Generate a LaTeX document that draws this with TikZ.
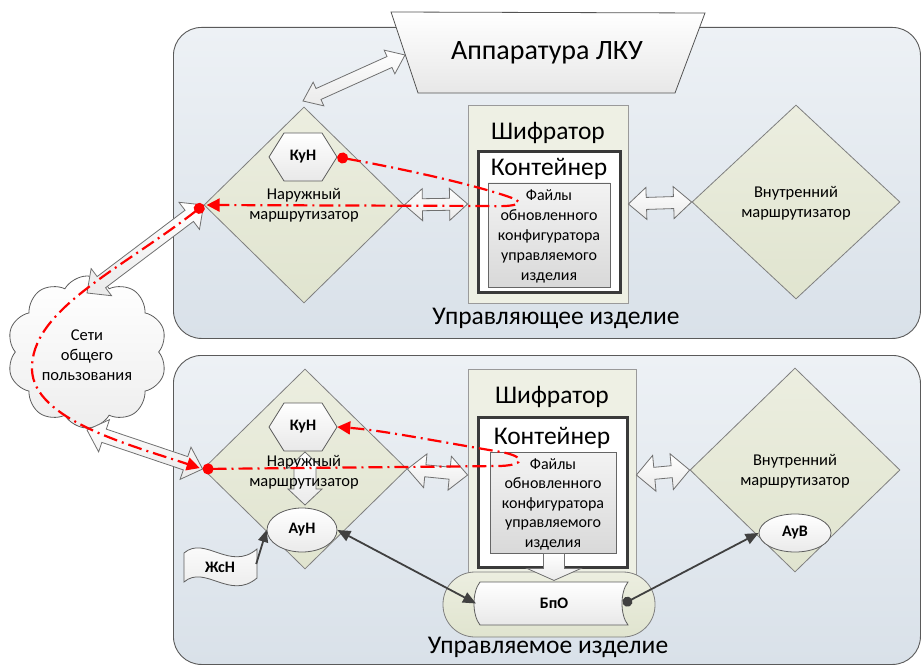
\documentclass[tikz,border=0pt]{standalone}
\usepackage{fontspec}
\setmainfont{Carlito}
\usetikzlibrary{shapes.geometric,shapes.symbols,arrows.meta,calc}

\definecolor{panelA}{HTML}{EDF1F5}
\definecolor{panelB}{HTML}{D9E1E9}
\definecolor{panelLine}{HTML}{5A5A5A}
\definecolor{oliveA}{HTML}{ECEEE0}
\definecolor{oliveB}{HTML}{E0E4CF}
\definecolor{oliveLine}{HTML}{7F7F7F}
\definecolor{encFill}{HTML}{EEF0E4}
\definecolor{encLine}{HTML}{9A9A9A}
\definecolor{contLine}{HTML}{3A3A3A}
\definecolor{filesA}{HTML}{F3F3F3}
\definecolor{filesB}{HTML}{D9D9D9}
\definecolor{arrowB}{HTML}{EAEAEA}
\definecolor{arrowLine}{HTML}{707070}
\definecolor{darkLine}{HTML}{404040}
\definecolor{routeRed}{HTML}{FF0000}

\tikzset{
  panel/.style={draw=panelLine, line width=0.9pt, rounded corners=28pt,
    top color=panelA, bottom color=panelB, inner sep=0pt, anchor=north west},
  router/.style={diamond, draw=oliveLine, line width=0.8pt, top color=oliveA,
    bottom color=oliveB, inner sep=0pt},
  encoder/.style={draw=encLine, line width=0.8pt, fill=encFill, inner sep=0pt},
  container/.style={draw=contLine, line width=3pt, fill=white, inner sep=0pt},
  files/.style={draw=darkLine!80, line width=0.9pt, top color=filesA,
    bottom color=filesB, inner sep=0pt},
  blockarrow/.style={draw=arrowLine, line width=0.8pt, top color=white,
    bottom color=arrowB},
  lightshape/.style={draw=darkLine!85, line width=0.8pt, top color=white,
    bottom color=filesB!60},
  ellnode/.style={ellipse, draw=darkLine!85, line width=0.8pt, top color=white,
    bottom color=filesB!55, inner sep=0pt},
  stadium/.style={draw=oliveLine, line width=0.8pt, top color=oliveA,
    bottom color=oliveB, rounded corners=32pt, inner sep=0pt},
  bigtxt/.style={font=\fontsize{25.5}{29}\selectfont},
  midtxt/.style={font=\fontsize{16.5}{20}\selectfont, align=center},
  boldtxt/.style={font=\bfseries\fontsize{16}{18}\selectfont, inner sep=0pt},
  reddash/.style={draw=routeRed, line width=2.2pt,
    dash pattern=on 14pt off 5pt on 2pt off 5pt},
  reddot/.tip={Circle[length=11pt]},
  redtip/.tip={Triangle[length=13pt,width=13pt]},
  darkarrow/.style={draw=darkLine, line width=1.8pt},
}

% double-headed block arrow: from, to, shaft half-width, head half-width, head length
\newcommand\dblarrow[5]{%
  \path[blockarrow] let \p1=(#1), \p2=(#2), \n1={atan2(\y2-\y1,\x2-\x1)} in
    (\p1) -- ($(\p1)+(\n1:#5)+(\n1+90:#4)$) -- ($(\p1)+(\n1:#5)+(\n1+90:#3)$)
    -- ($(\p2)+(\n1:-#5)+(\n1+90:#3)$) -- ($(\p2)+(\n1:-#5)+(\n1+90:#4)$)
    -- (\p2) -- ($(\p2)+(\n1:-#5)+(\n1-90:#4)$) -- ($(\p2)+(\n1:-#5)+(\n1-90:#3)$)
    -- ($(\p1)+(\n1:#5)+(\n1-90:#3)$) -- ($(\p1)+(\n1:#5)+(\n1-90:#4)$) -- cycle;}

% hexagonal "КуН" node: name, centre
\newcommand\kunnode[2]{%
  \coordinate (#1c) at #2;
  \path[lightshape] ($(#1c)+(-34,0)$) -- ($(#1c)+(-19,-24)$) -- ($(#1c)+(19,-24)$)
    -- ($(#1c)+(34,0)$) -- ($(#1c)+(19,24)$) -- ($(#1c)+(-19,24)$) -- cycle;
  \node[boldtxt, minimum width=68pt, minimum height=48pt] (#1) at (#1c) {КуН};}

\begin{document}
\begin{tikzpicture}[x=1pt,y=-1pt]
\useasboundingbox (0,0) rectangle (923,668);

% ---------- product panels ----------
\node[panel, minimum width=747pt, minimum height=311pt] (ctrl) at (173,27) {};
\node[panel, minimum width=747pt, minimum height=309pt] (mngd) at (173,355) {};
\node[bigtxt] (ctrlLabel) at (556,318) {Управляющее изделие};
\node[bigtxt] (mngdLabel) at (548,647) {Управляемое изделие};

% ---------- LKU equipment ----------
\path[draw=darkLine!90, line width=0.8pt, top color=white, bottom color=filesA!90!gray]
  (391,12) -- (705,13) -- (675,93) -- (418,93) -- cycle;
\node[font=\fontsize{28}{31}\selectfont] (lku) at (547,53) {Аппаратура ЛКУ};
\coordinate (lkuL) at (405,55);

% ---------- upper product ----------
\node[router, minimum width=200pt, minimum height=196pt] (ext1) at (304,205) {};
\node[router, minimum width=208pt, minimum height=194pt] (int1) at (796,202) {};
\node[encoder, minimum width=160pt, minimum height=198pt] (enc1) at (548,204) {};
\node[container, minimum width=142pt, minimum height=140pt] (cont1) at (549,222) {};
\node[files, minimum width=122pt, minimum height=104pt] (files1) at (549,235) {};
\node[bigtxt] (enc1t) at (548,133) {Шифратор};
\node[bigtxt] (cont1t) at (549,169) {Контейнер};
\node[midtxt, font=\fontsize{16}{20}\selectfont] (files1t) at (549,236)
  {Файлы\\обновленного\\конфигуратора\\управляемого\\изделия};

\kunnode{kun1}{(303,157)}
\node[midtxt] (ext1t) at (304,205) {Наружный\\маршрутизатор};
\node[midtxt] (int1t) at (796,203) {Внутренний\\маршрутизатор};

\coordinate (d1top) at (303,101);
\dblarrow{d1top}{lkuL}{6pt}{13pt}{17pt}
\dblarrow{ext1.east}{enc1.west}{6pt}{16pt}{18pt}
\dblarrow{enc1.east}{int1.west}{6pt}{16pt}{18pt}

% ---------- lower product ----------
\node[router, minimum width=204pt, minimum height=200pt] (ext2) at (305,469) {};
\node[router, minimum width=210pt, minimum height=204pt] (int2) at (795,470) {};
\node[encoder, minimum width=168pt, minimum height=212pt] (enc2) at (552,475) {};
\node[container, minimum width=149pt, minimum height=150pt] (cont2) at (552.5,492) {};
\node[files, minimum width=126pt, minimum height=101pt] (files2) at (553,502.5) {};
\node[bigtxt] (enc2t) at (552,397) {Шифратор};
\node[bigtxt] (cont2t) at (552,438) {Контейнер};
\node[midtxt, font=\fontsize{16}{19.5}\selectfont] (files2t) at (553,504)
  {Файлы\\обновленного\\конфигуратора\\управляемого\\изделия};

\dblarrow{ext2.east}{enc2.west}{6pt}{17pt}{18pt}
\dblarrow{enc2.east}{int2.west}{6pt}{18pt}{18pt}

\kunnode{kun2}{(303,427)}
\coordinate (vtop) at (305,452);
\coordinate (vbot) at (305,505);
\dblarrow{vtop}{vbot}{11pt}{17pt}{16pt}
\node[midtxt] (ext2t) at (304,472) {Наружный\\маршрутизатор};
\node[midtxt] (int2t) at (795,471) {Внутренний\\маршрутизатор};

\node[ellnode, minimum width=70pt, minimum height=44pt, font=\bfseries\fontsize{16}{18}\selectfont]
  (ayn) at (302,530) {АуН};
\node[ellnode, minimum width=72pt, minimum height=38pt, font=\bfseries\fontsize{16}{18}\selectfont]
  (ayv) at (795,533) {АуВ};

% log store
\node[stadium, minimum width=212pt, minimum height=65pt] (bpobox) at (549,604.5) {};
\path[lightshape] (480,582) -- (628,582) .. controls (620,592) and (620,615) .. (628,625)
  -- (480,625) .. controls (472,615) and (472,592) .. (480,582) -- cycle;
\node[boldtxt] (bpo) at (554,603.5) {БпО};
\coordinate (bpoW) at (476,603.5);
\coordinate (bpoDot) at (623,604);

% files go down to the log store
\coordinate (dtop) at ($(files2.south)+(1,0)$);
\path[blockarrow] ($(dtop)+(-10.5,0)$) -- ($(dtop)+(-10.5,15)$) -- ($(dtop)+(-27,15)$)
  -- ($(dtop)+(0,27)$) -- ($(dtop)+(27,15)$) -- ($(dtop)+(10.5,15)$)
  -- ($(dtop)+(10.5,0)$) -- cycle;

% ЖсН tape
\path[lightshape] (184,553) .. controls (205,535) and (230,572) .. (257,549)
  -- (257,578) .. controls (230,601) and (205,564) .. (184,582) -- cycle;
\node[boldtxt, minimum width=74pt, minimum height=36pt] (zhsn) at (220,567) {ЖсН};

% dark connectors
\draw[darkarrow, -{Triangle[length=12pt,width=10pt]}] ($(zhsn.east)+(-1,-3)$) -- (ayn.west);
\draw[darkarrow, {Triangle[length=13pt,width=11pt]}-{Triangle[length=13pt,width=11pt]}]
  (ayn.east) -- (bpoW);
\draw[darkarrow, {Circle[length=10pt]}-{Triangle[length=13pt,width=11pt]}]
  (bpoDot) -- (ayv.west);

% ---------- public networks ----------
\node[cloud, cloud puffs=10, cloud puff arc=120, aspect=1.05, draw=darkLine!85,
  line width=0.8pt, top color=white, bottom color=filesB!45,
  minimum width=160pt, minimum height=152pt, inner sep=0pt] (net) at (87,352) {};
\node[midtxt] (nett) at (87,355) {Сети\\общего\\пользования};
\coordinate (netTop) at (87,293);
\coordinate (netBot) at (87,430);
\dblarrow{netTop}{ext1.west}{7pt}{17pt}{18pt}
\dblarrow{netBot}{ext2.west}{7pt}{17pt}{18pt}

% ---------- update route ----------
\draw[reddash, {reddot}-{redtip}, shorten >=3pt]
  (kun1.east) .. controls (420,172) and (485,188) .. (512,198)
  .. controls (528,204) and (512,207) .. (490,206) -- (ext1.west);
\draw[reddash, {reddot}-{redtip}, shorten >=3pt]
  (ext1.west) .. controls (120,270) and (30,310) .. (32,370)
  .. controls (34,420) and (130,445) .. (ext2.west);
\draw[reddash, {reddot}-{redtip}]
  (ext2.west) -- (500,466) .. controls (528,465) and (525,455) .. (495,451)
  .. controls (430,440) and (380,430) .. (kun2.east);
\end{tikzpicture}
\end{document}
